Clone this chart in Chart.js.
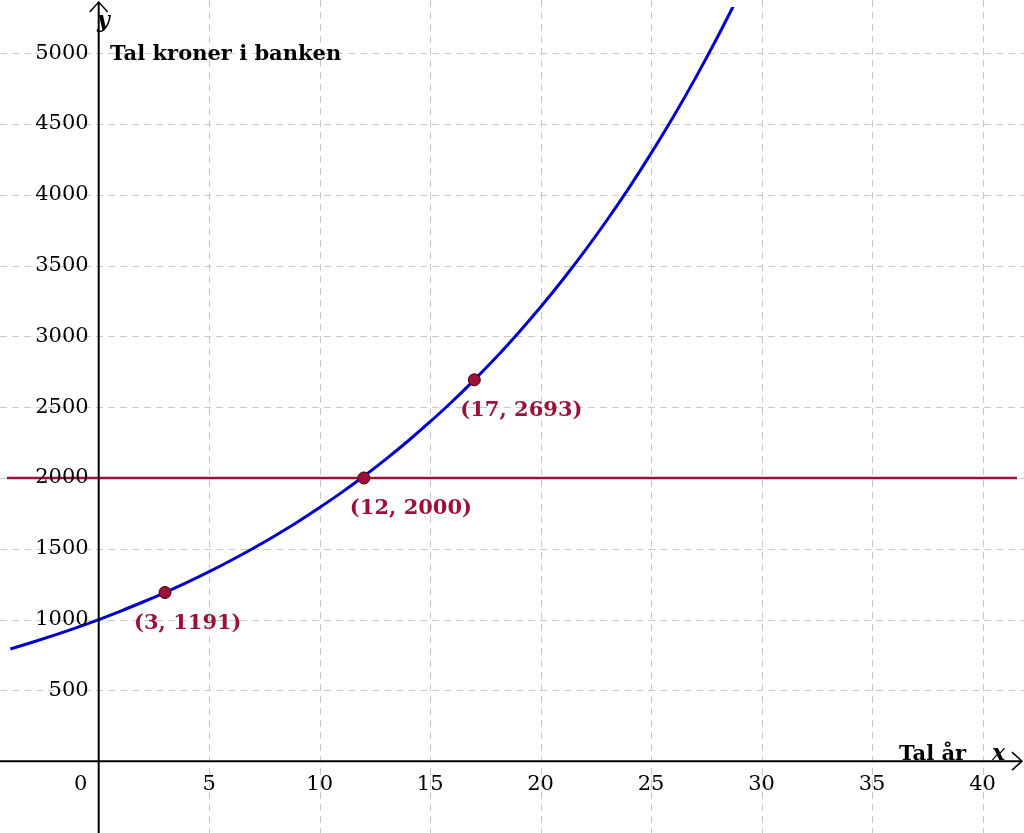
<!DOCTYPE html>
<html><head><meta charset="utf-8">
<script src="https://cdn.jsdelivr.net/npm/chart.js@4/dist/chart.umd.min.js"></script>
<style>body{margin:0;background:#fff}canvas{display:block}</style>
</head><body>
<canvas id="c" width="1024" height="833"></canvas>
<script>
const curveX = [-4,-3,-2,-1,0,1,2,3,4,5,6,7,8,9,10,11,12,13,14,15,16,17,18,19,20,21,22,23,24,25,26,27,28,29];
const curveY = [792,840,890,943,1000,1060,1124,1191,1262,1338,1419,1504,1594,1689,1791,1898,2012,2133,2261,2397,2540,2693,2854,3026,3207,3400,3604,3820,4049,4292,4549,4822,5112,5418];
const pointX = [3,12,17];
const pointY = [1191,2000,2693];
const pointLabels = ['(3, 1191)','(12, 2000)','(17, 2693)'];
const xTicks = [5,10,15,20,25,30,35,40];
const yTicks = [500,1000,1500,2000,2500,3000,3500,4000,4500,5000];
const lineY = 2000;
const RED = '#9b1137';
const serif = '"DejaVu Serif","Liberation Serif",serif';

const gridPlugin = {
  id:'grid',
  beforeDatasetsDraw(chart){
    const {ctx, scales:{x,y}} = chart;
    ctx.save();
    ctx.strokeStyle='#c8c8c8'; ctx.lineWidth=1; ctx.setLineDash([7,5]);
    xTicks.forEach(v=>{const p=Math.round(x.getPixelForValue(v))+0.5;ctx.beginPath();ctx.moveTo(p,0);ctx.lineTo(p,833);ctx.stroke();});
    yTicks.forEach(v=>{const p=Math.round(y.getPixelForValue(v))+0.5;ctx.beginPath();ctx.moveTo(0,p);ctx.lineTo(1024,p);ctx.stroke();});
    ctx.restore();
  }
};
const axesPlugin = {
  id:'axes',
  afterDatasetsDraw(chart){
    const {ctx, scales:{x,y}} = chart;
    const x0 = x.getPixelForValue(0), y0 = y.getPixelForValue(0);
    ctx.save();
    ctx.strokeStyle='#000'; ctx.lineWidth=2;
    ctx.beginPath(); ctx.moveTo(0,y0); ctx.lineTo(1022,y0); ctx.stroke();
    ctx.beginPath(); ctx.moveTo(x0,833); ctx.lineTo(x0,2); ctx.stroke();
    ctx.lineWidth=1.5;
    ctx.beginPath(); ctx.moveTo(1012,y0-9); ctx.lineTo(1022,y0); ctx.lineTo(1012,y0+9); ctx.stroke();
    ctx.beginPath(); ctx.moveTo(x0-9,12); ctx.lineTo(x0,2); ctx.lineTo(x0+9,12); ctx.stroke();
    ctx.fillStyle='#000';
    ctx.font='21px '+serif;
    ctx.textAlign='right'; ctx.textBaseline='middle';
    yTicks.forEach(v=>ctx.fillText(String(v), x0-10, y.getPixelForValue(v)));
    ctx.textAlign='center'; ctx.textBaseline='middle';
    xTicks.forEach(v=>ctx.fillText(String(v), x.getPixelForValue(v), y0+23));
    ctx.fillText('0', x0-18, y0+23);
    ctx.font='bold 21px '+serif; ctx.textAlign='left'; ctx.textBaseline='alphabetic';
    ctx.fillText('Tal kroner i banken', 110, 60);
    ctx.fillText('Tal år', 899, 760);
    ctx.font='italic bold 22px '+serif;
    ctx.fillText('y', 97, 27);
    ctx.fillText('x', 992, 760);
    ctx.fillStyle=RED; ctx.font='bold 21px '+serif;
    pointX.forEach((px,i)=>{
      ctx.fillText(pointLabels[i], x.getPixelForValue(px)-(i===0?31:14), y.getPixelForValue(pointY[i])+36);
    });
    ctx.restore();
  }
};

new Chart(document.getElementById('c'),{
  type:'scatter',
  data:{datasets:[
    {data:pointX.map((v,i)=>({x:v,y:pointY[i]})), backgroundColor:RED, borderColor:'#400',
     borderWidth:1, pointRadius:6, order:0},
    {type:'line', data:curveX.map((v,i)=>({x:v,y:curveY[i]})), borderColor:'#0000cc', borderWidth:3,
     pointRadius:0, tension:0.4, cubicInterpolationMode:'monotone', order:2},
    {type:'line', data:[{x:-5,y:lineY},{x:45,y:lineY}], borderColor:RED, borderWidth:2.5, pointRadius:0, order:1}
  ]},
  options:{
    responsive:false, devicePixelRatio:1, animation:false,
    layout:{padding:0},
    plugins:{legend:{display:false},tooltip:{enabled:false}},
    scales:{
      x:{type:'linear', display:false, min:-4.15, max:41.56},
      y:{type:'linear', display:false, min:-458, max:5326}
    }
  },
  plugins:[gridPlugin, axesPlugin]
});
</script>
</body></html>
